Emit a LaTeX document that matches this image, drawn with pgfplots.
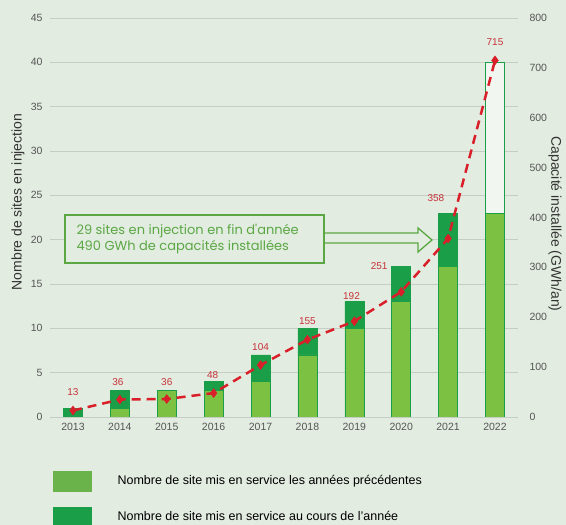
\documentclass[border=0pt]{standalone}
\usepackage{pgfplots}
\pgfplotsset{compat=1.18}
\usepackage{fontspec}
\setmainfont{Liberation Sans}
\newfontfamily\annfont{Poppins}
\definecolor{bg}{HTML}{E2ECE0}
\definecolor{lightg}{HTML}{7DC142}
\definecolor{legl}{HTML}{6AB24A}
\definecolor{darkg}{HTML}{1A9E48}
\definecolor{redl}{HTML}{D9202A}
\definecolor{redt}{HTML}{C8323A}
\definecolor{anng}{HTML}{5BA744}
\definecolor{tickc}{HTML}{555555}
\definecolor{gridc}{HTML}{C5CEC5}
\begin{document}
\begin{tikzpicture}[x=1pt,y=1pt]
\fill[bg] (0pt,0pt) rectangle (566pt,525pt);
\pgfplotsset{
  common/.style={
    at={(50pt,108pt)}, anchor=south west, scale only axis,
    width=468pt, height=399pt,
    xmin=2012.51, xmax=2022.49,
    /pgf/number format/assume math mode=true,
    /pgf/number format/1000 sep={},
    tick label style={font=\fontsize{10.5}{12}\selectfont, text=tickc},
    major tick length=0pt,
    axis line style={draw=none},
  }
}
\begin{axis}[common,
  ymin=0, ymax=45, ytick={0,5,...,45},
  xtick={2013,2014,...,2022},
  ymajorgrids, grid style={gridc, line width=0.6pt},
  ybar stacked, bar width=19pt,
  yticklabel style={xshift=-4pt},
  xticklabel style={yshift=-3pt},
]
\addplot[fill=lightg, draw=darkg, line width=0.5pt] coordinates {(2013,0) (2014,1) (2015,3) (2016,3) (2017,4) (2018,7) (2019,10) (2020,13) (2021,17) (2022,23)};
\addplot[fill=darkg, draw=darkg, line width=0.5pt] coordinates {(2013,1) (2014,2) (2015,0) (2016,1) (2017,3) (2018,3) (2019,3) (2020,4) (2021,6) (2022,0)};
\addplot[fill=white!55!bg, draw=darkg, line width=0.5pt] coordinates {(2013,0) (2014,0) (2015,0) (2016,0) (2017,0) (2018,0) (2019,0) (2020,0) (2021,0) (2022,17)};
\end{axis}
\begin{axis}[common,
  ymin=0, ymax=800, ytick={0,100,...,800},
  axis y line*=right, axis x line=none,
  yticklabel style={anchor=west, xshift=8pt},
]
\addplot[redl, line width=2.5pt, dash pattern=on 9pt off 6pt, mark=diamond*, mark size=4.5pt, mark options={solid, fill=redl, draw=redl, line width=0.4pt}]
  coordinates {(2013,13) (2014,35) (2015,36) (2016,48) (2017,104) (2018,155) (2019,192) (2020,251) (2021,358) (2022,715)};
\addplot[draw=none, mark=none, nodes near coords, point meta=explicit symbolic,
  every node near coord/.append style={font=\fontsize{10}{12}\selectfont, text=redt, yshift=-6pt}]
  coordinates {(2013,48.1)[13] (2013.96,68.2)[36] (2015,68.2)[36] (2015.98,82.2)[48] (2017,138.3)[104] (2018,190.5)[155] (2018.94,240.6)[192] (2019.53,300.8)[251] (2020.74,437.1)[358] (2022,749.9)[715]};
\end{axis}
% axis titles
\node[rotate=90, font=\fontsize{14}{16}\selectfont, text=black!80] at (18pt,323pt) {Nombre de sites en injection};
\node[rotate=-90, font=\fontsize{14}{16}\selectfont, text=black!80] at (555pt,301pt) {Capacité installée (GWh/an)};
% annotation
\draw[anng, line width=1.3pt, fill=bg] (324pt,292pt) -- (418pt,292pt) -- (418pt,297pt) -- (432pt,285pt) -- (418pt,273pt) -- (418pt,282pt) -- (324pt,282pt);
\draw[anng, line width=1.5pt, fill=bg] (65pt,262pt) rectangle (324pt,310pt);
\node[anchor=west, text=anng, font=\annfont\fontsize{13}{15.5}\selectfont, align=left] at (73pt,286pt) {29 sites en injection en fin d'année\\490 GWh de capacités installées};
% legend
\fill[legl] (53pt,33pt) rectangle (92pt,54pt);
\fill[darkg] (53pt,0pt) rectangle (92pt,18pt);
\node[anchor=west, font=\fontsize{12.5}{14}\selectfont] at (114pt,44pt) {Nombre de site mis en service les années précédentes};
\node[anchor=west, font=\fontsize{12.5}{14}\selectfont] at (114pt,9pt) {Nombre de site mis en service au cours de l'année};
\end{tikzpicture}
\end{document}
